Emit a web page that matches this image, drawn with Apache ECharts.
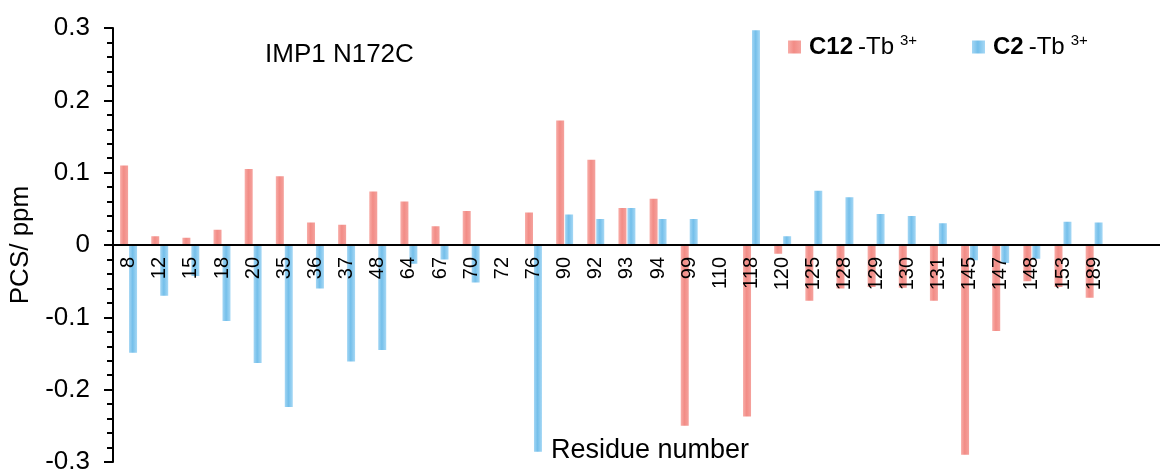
<!DOCTYPE html>
<html>
<head>
<meta charset="utf-8">
<script src="https://cdn.jsdelivr.net/npm/echarts@6/dist/echarts.min.js"></script>
<style>
  html, body { margin: 0; padding: 0; background: #fff; }
  #chart { width: 1160px; height: 472px; }
</style>
</head>
<body>
<div id="chart"></div>
<script>
// Residues with measured pseudocontact shifts
const residues = ['8', '12', '15', '18', '20', '35', '36', '37', '48', '64', '67', '70', '72', '76',
  '90', '92', '93', '94', '99', '110', '118', '120', '125', '128', '129', '130', '131',
  '145', '147', '148', '153', '189'];

// PCS (ppm) with the C12-Tb3+ tag
const c12Tb = [0.110, 0.012, 0.010, 0.021, 0.105, 0.095, 0.031, 0.028, 0.074, 0.060, 0.026, 0.047, null, 0.045,
  0.172, 0.118, 0.051, 0.064, -0.250, null, -0.237, -0.012, -0.077, -0.060, -0.058, -0.059, -0.077,
  -0.290, -0.119, -0.050, -0.058, -0.073];

// PCS (ppm) with the C2-Tb3+ tag
const c2Tb = [-0.149, -0.070, -0.043, -0.105, -0.163, -0.224, -0.060, -0.161, -0.145, -0.026, -0.020, -0.052, null, -0.286,
  0.042, 0.036, 0.051, 0.036, 0.036, null, 0.297, 0.012, 0.075, 0.066, 0.043, 0.040, 0.030,
  -0.021, -0.025, -0.019, 0.032, 0.031];

// Value axis range and step (ppm)
const yMin = -0.3;
const yMax = 0.3;
const yStep = 0.1;

const FONT = 'Liberation Sans, Arial, sans-serif';

// the zero line runs on past the last residue
const axisSlots = residues.concat(['', '']);

function barGradient(edge, mid, edge2) {
  return new echarts.graphic.LinearGradient(0, 0, 1, 0, [
    { offset: 0, color: edge },
    { offset: 0.45, color: mid },
    { offset: 1, color: edge2 }
  ]);
}

const redFill = barGradient('#F8ADA8', '#F28C86', '#F5A29D');
const blueFill = barGradient('#A3D6F4', '#74BFEA', '#A6D8F5');

const legendRich = {
  b: { fontFamily: FONT, fontSize: 24, fontWeight: 'bold', color: '#000', lineHeight: 28, padding: [0, 0, 0, 3] },
  n: { fontFamily: FONT, fontSize: 24, color: '#000', lineHeight: 28, padding: [0, 0, 0, 5] },
  s: { fontFamily: FONT, fontSize: 15, color: '#000', lineHeight: 15, verticalAlign: 'top', padding: [0, 0, 0, 6] }
};

const chart = echarts.init(document.getElementById('chart'), null, { renderer: 'canvas' });

chart.setOption({
  backgroundColor: '#fff',
  animation: false,
  title: [
    {
      text: 'IMP1 N172C',
      left: 265, top: 42, padding: 0,
      textStyle: { fontFamily: FONT, fontSize: 26, fontWeight: 'normal', color: '#000' }
    },
    {
      text: 'Residue number',
      left: 551, top: 437, padding: 0,
      textStyle: { fontFamily: FONT, fontSize: 27, fontWeight: 'normal', color: '#000' }
    }
  ],
  legend: [
    {
      data: ['C12-Tb3+'],
      left: 788, top: 33, padding: 0,
      icon: 'rect', itemWidth: 13, itemHeight: 13,
      selectedMode: false,
      formatter: () => '{b|C12}{n|-Tb}{s|3+}',
      textStyle: { rich: legendRich }
    },
    {
      data: ['C2-Tb3+'],
      left: 972, top: 33, padding: 0,
      icon: 'rect', itemWidth: 13, itemHeight: 13,
      selectedMode: false,
      formatter: () => '{b|C2}{n|-Tb}{s|3+}',
      textStyle: { rich: legendRich }
    }
  ],
  grid: {
    left: 113, right: -12, top: 28, bottom: 10,
    outerBoundsMode: 'none',
    containLabel: false
  },
  xAxis: {
    type: 'category',
    data: axisSlots,
    z: 5,
    axisLine: { onZero: false, lineStyle: { color: '#000', width: 2 } },
    axisTick: { show: false },
    axisLabel: {
      interval: 0, rotate: 90, margin: 12,
      fontFamily: FONT, fontSize: 20, color: '#000'
    },
    splitLine: { show: false }
  },
  yAxis: {
    type: 'value',
    min: yMin, max: yMax, interval: yStep,
    name: 'PCS/ ppm',
    nameLocation: 'middle',
    nameGap: 74,
    nameTextStyle: { fontFamily: FONT, fontSize: 26, color: '#000' },
    axisLine: { show: true, onZero: false, lineStyle: { color: '#000', width: 2 } },
    axisTick: { show: true, inside: false, length: 9, lineStyle: { color: '#000', width: 2 } },
    minorTick: { show: true, splitNumber: 5, length: 6, lineStyle: { color: '#000', width: 2 } },
    axisLabel: { margin: 23, fontFamily: FONT, fontSize: 26, color: '#000' },
    splitLine: { show: false }
  },
  series: [
    {
      name: 'C12-Tb3+',
      type: 'bar',
      data: c12Tb,
      barWidth: 8,
      barGap: '12%',
      itemStyle: { color: redFill }
    },
    {
      name: 'C2-Tb3+',
      type: 'bar',
      data: c2Tb,
      barWidth: 8,
      itemStyle: { color: blueFill }
    }
  ]
});

// Residue axis (line and its labels) sits on the zero level of the PCS scale
const zeroY = chart.convertToPixel({ yAxisIndex: 0 }, 0);
const floorY = chart.convertToPixel({ yAxisIndex: 0 }, yMin);
chart.setOption({ xAxis: { offset: zeroY - floorY } });
</script>
</body>
</html>
